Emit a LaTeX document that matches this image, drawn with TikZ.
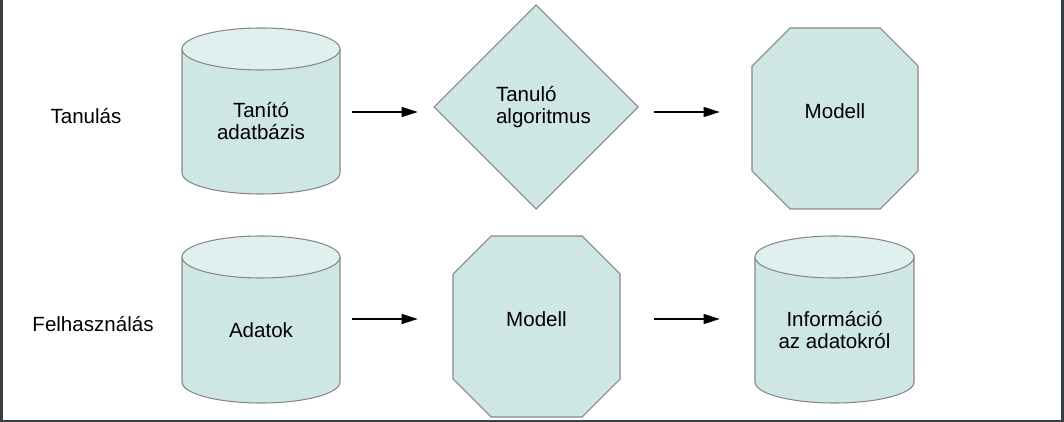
\documentclass[tikz,border=0pt]{standalone}
\usepackage{fontspec}
\setmainfont{Liberation Sans}
\usetikzlibrary{arrows.meta}
\tikzset{>=Triangle}
\definecolor{shapeTeal}{RGB}{207,231,228}
\definecolor{capTeal}{RGB}{224,240,239}
\definecolor{shapeEdge}{RGB}{135,135,135}
\definecolor{pageEdge}{RGB}{60,63,65}
\newcommand{\px}{0.02cm}
\tikzset{
	shapeBody/.style={draw=shapeEdge, line width=0.6pt, fill=shapeTeal},
	shapeCap/.style={draw=shapeEdge, line width=0.6pt, fill=capTeal},
	shapeText/.style={inner sep=0pt, align=center},
	flow/.style={-{Triangle[length=0.32cm,width=0.2cm]}, line width=0.7pt}
}
\newcommand{\dataStore}[6]{
	% #1: x (left)
	% #2: y (top)
	% #3: width
	% #4: height
	% #5: name
	% #6: text
	\draw[shapeBody] (#1,#2+21) -- (#1,#2+#4-21)
		arc[start angle=180, end angle=0, x radius=#3/2, y radius=21]
		-- (#1+#3,#2+21) -- cycle;
	\draw[shapeCap] (#1+#3/2,#2+21) ellipse[x radius=#3/2, y radius=21];
	\node[shapeText, minimum width=#3*\px, minimum height=#4*\px-21*\px] (#5) at (#1+#3/2,#2+#4/2+10.5) {#6};
}
\newcommand{\decision}[5]{
	% #1: x (centre)
	% #2: y (centre)
	% #3: half size
	% #4: name
	% #5: text
	\draw[shapeBody] (#1,#2-#3) -- (#1+#3,#2) -- (#1,#2+#3) -- (#1-#3,#2) -- cycle;
	\node[shapeText, minimum size=2*#3*\px, text width=80*\px, align=left] (#4) at (#1,#2) {#5};
}
\newcommand{\octaBox}[7]{
	% #1: x (left)
	% #2: y (top)
	% #3: width
	% #4: height
	% #5: corner cut
	% #6: name
	% #7: text
	\draw[shapeBody] (#1+#5,#2) -- (#1+#3-#5,#2) -- (#1+#3,#2+#5) -- (#1+#3,#2+#4-#5)
		-- (#1+#3-#5,#2+#4) -- (#1+#5,#2+#4) -- (#1,#2+#4-#5) -- (#1,#2+#5) -- cycle;
	\node[shapeText, minimum width=#3*\px, minimum height=#4*\px-14*\px] (#6) at (#1+#3/2,#2+#4/2-7) {#7};
}

\begin{document}
\begin{tikzpicture}[x=0.02cm, y=-0.02cm, every node/.style={font=\fontsize{11.7}{12.5}\selectfont}]
\useasboundingbox (0,0) rectangle (1064,422);

% page edges
\fill[pageEdge] (0,0) rectangle (3,422);
\fill[pageEdge] (1061,0) rectangle (1064,422);
\fill[pageEdge] (0,420) rectangle (1064,422);

% row labels
\node (learnLabel) at (86,116) {Tanulás};
\node (useLabel) at (93,324) {Felhasználás};

% learning row
\dataStore{182}{28}{158}{166}{trainDb}{Tanító\\adatbázis}
\decision{536}{107}{102}{learnAlgo}{Tanuló\\algoritmus}
\octaBox{752}{28}{166}{181}{38}{learnModel}{Modell}

% usage row
\dataStore{182}{236}{158}{167}{useData}{Adatok}
\octaBox{453}{236}{167}{181}{38}{useModel}{Modell}
\dataStore{755}{236}{159}{167}{useInfo}{Információ\\az adatokról}

% arrows
\coordinate (learnRow) at (0,112);
\coordinate (useRow) at (0,319);
\draw[flow, shorten <=12*\px, shorten >=16*\px] (trainDb.east |- learnRow) -- (learnAlgo.west |- learnRow);
\draw[flow, shorten <=16*\px, shorten >=32*\px] (learnAlgo.east |- learnRow) -- (learnModel.west |- learnRow);
\draw[flow, shorten <=12*\px, shorten >=35*\px] (useData.east |- useRow) -- (useModel.west |- useRow);
\draw[flow, shorten <=34*\px, shorten >=35*\px] (useModel.east |- useRow) -- (useInfo.west |- useRow);

\end{tikzpicture}
\end{document}
